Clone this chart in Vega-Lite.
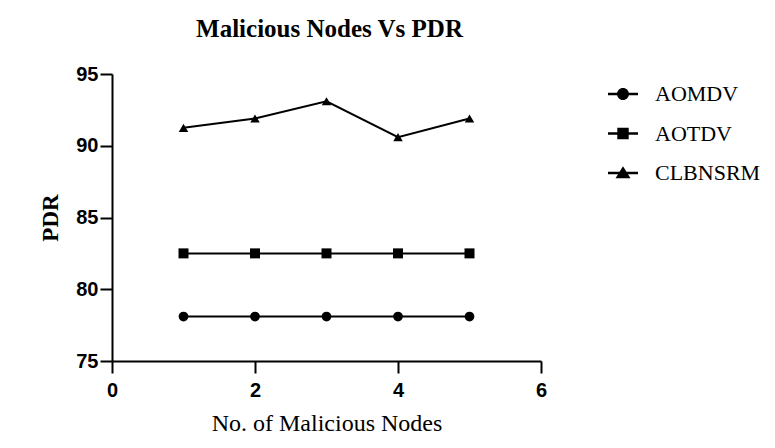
{
  "$schema": "https://vega.github.io/schema/vega-lite/v6.json",
  "width": 429,
  "height": 287,
  "autosize": {"type": "none"},
  "padding": {"left": 112, "top": 74, "right": 234, "bottom": 87},
  "background": "white",
  "title": {
    "text": "Malicious Nodes Vs PDR",
    "font": "Liberation Serif",
    "fontSize": 25,
    "fontWeight": "bold",
    "color": "black",
    "offset": 22,
    "dx": 3
  },
  "data": {
    "values": [
      {"nodes": 1, "pdr": 78.1, "series": "AOMDV"},
      {"nodes": 2, "pdr": 78.1, "series": "AOMDV"},
      {"nodes": 3, "pdr": 78.1, "series": "AOMDV"},
      {"nodes": 4, "pdr": 78.1, "series": "AOMDV"},
      {"nodes": 5, "pdr": 78.1, "series": "AOMDV"},
      {"nodes": 1, "pdr": 82.5, "series": "AOTDV"},
      {"nodes": 2, "pdr": 82.5, "series": "AOTDV"},
      {"nodes": 3, "pdr": 82.5, "series": "AOTDV"},
      {"nodes": 4, "pdr": 82.5, "series": "AOTDV"},
      {"nodes": 5, "pdr": 82.5, "series": "AOTDV"},
      {"nodes": 1, "pdr": 91.25, "series": "CLBNSRM"},
      {"nodes": 2, "pdr": 91.9, "series": "CLBNSRM"},
      {"nodes": 3, "pdr": 93.1, "series": "CLBNSRM"},
      {"nodes": 4, "pdr": 90.6, "series": "CLBNSRM"},
      {"nodes": 5, "pdr": 91.9, "series": "CLBNSRM"}
    ]
  },
  "encoding": {
    "x": {
      "field": "nodes",
      "type": "quantitative",
      "scale": {"domain": [0, 6], "nice": false, "zero": false},
      "axis": {
        "title": "No. of Malicious Nodes",
        "values": [0, 2, 4, 6],
        "grid": false,
        "domainColor": "black",
        "domainWidth": 2,
        "tickColor": "black",
        "tickWidth": 2,
        "tickSize": 12,
        "labelPadding": 7,
        "labelFont": "Liberation Sans",
        "labelFontWeight": "bold",
        "labelFontSize": 20,
        "labelColor": "black",
        "labelFlush": false,
        "titleFont": "Liberation Serif",
        "titleFontWeight": "normal",
        "titleFontSize": 24,
        "titleColor": "black",
        "titlePadding": 11
      }
    },
    "y": {
      "field": "pdr",
      "type": "quantitative",
      "scale": {"domain": [75, 95], "nice": false, "zero": false},
      "axis": {
        "title": "PDR",
        "values": [75, 80, 85, 90, 95],
        "grid": false,
        "domainColor": "black",
        "domainWidth": 2,
        "tickColor": "black",
        "tickWidth": 2,
        "tickSize": 12,
        "labelPadding": 2,
        "labelFont": "Liberation Sans",
        "labelFontWeight": "bold",
        "labelFontSize": 20,
        "labelColor": "black",
        "labelFlush": false,
        "titleFont": "Liberation Serif",
        "titleFontWeight": "bold",
        "titleFontSize": 23,
        "titleColor": "black",
        "titlePadding": 13
      }
    }
  },
  "layer": [
    {
      "mark": {"type": "line", "color": "black", "strokeWidth": 2},
      "encoding": {"detail": {"field": "series"}}
    },
    {
      "transform": [{"filter": "datum.series === 'AOMDV'"}],
      "mark": {"type": "point", "filled": true, "color": "black", "opacity": 1, "size": 95, "shape": "circle"}
    },
    {
      "transform": [{"filter": "datum.series === 'AOTDV'"}],
      "mark": {"type": "point", "filled": true, "color": "black", "opacity": 1, "size": 100, "shape": "square"}
    },
    {
      "transform": [{"filter": "datum.series === 'CLBNSRM'"}],
      "mark": {"type": "point", "filled": true, "color": "black", "opacity": 1, "size": 90, "shape": "triangle-up"}
    },
    {
      "mark": {"type": "point", "filled": true, "color": "black", "opacity": 0},
      "encoding": {
        "shape": {
          "field": "series",
          "type": "nominal",
          "scale": {
            "domain": ["AOMDV", "AOTDV", "CLBNSRM"],
            "range": [
              "M-1,-0.09H1V0.09H-1ZM0.4,0A0.4,0.4,0,1,1,-0.4,0A0.4,0.4,0,1,1,0.4,0Z",
              "M-1,-0.09H1V0.09H-1ZM-0.38,-0.38H0.38V0.38H-0.38Z",
              "M-1,-0.09H1V0.09H-1ZM0,-0.45L0.5,0.35L-0.5,0.35Z"
            ]
          },
          "legend": {
            "title": null,
            "orient": "none",
            "legendX": 496,
            "legendY": 5,
            "padding": 0,
            "symbolSize": 900,
            "symbolOpacity": 1,
            "symbolFillColor": "black",
            "symbolStrokeWidth": 0,
            "rowPadding": 13.5,
            "labelOffset": 17,
            "labelFont": "Liberation Serif",
            "labelFontSize": 22,
            "labelColor": "black",
            "labelLimit": 300
          }
        }
      }
    }
  ],
  "config": {"view": {"stroke": null}}
}
